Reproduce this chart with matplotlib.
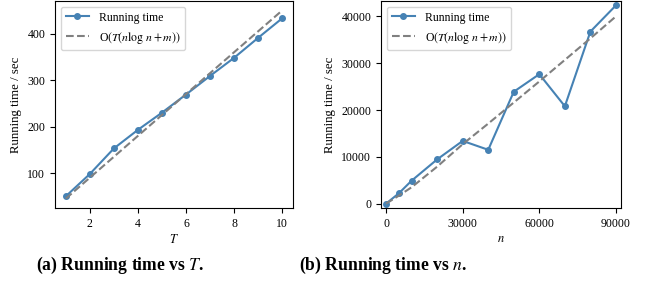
import matplotlib
matplotlib.use("Agg")
import matplotlib.pyplot as plt

plt.rcParams['font.family'] = ['Liberation Serif', 'DejaVu Serif']
plt.rcParams['mathtext.fontset'] = 'stix'

# Panel (a): running time vs T
T_vals = [1, 2, 3, 4, 5, 6, 7, 8, 9, 10]
time_T = [50, 98, 153, 193, 230, 269, 309, 348, 391, 433]
ref_T = [45, 90, 135, 180, 225, 270, 315, 360, 405, 450]

# Panel (b): running time vs n
n_vals = [0, 5000, 10000, 20000, 30000, 40000, 50000, 60000, 70000, 80000, 90000]
time_n = [0, 2200, 4900, 9450, 13400, 11500, 23900, 27650, 20800, 36750, 42350]
ref_n = [0, 1700, 3500, 7900, 12700, 17100, 21600, 26100, 30700, 35300, 40000]

line_label = "Running time"
ref_label = r"O$(T(n\log\,n+m))$"
blue = "#4682b4"
grey = "#808080"

fig = plt.figure(figsize=(6.52, 2.85), dpi=100)
ax1 = fig.add_axes([55/652, 1 - 208/285, 238/652, 207/285])
ax2 = fig.add_axes([381/652, 1 - 208/285, 240/652, 207/285])

ax1.plot(T_vals, time_T, color=blue, marker='o', markersize=4, lw=1.5, label=line_label)
ax1.plot(T_vals, ref_T, color=grey, ls='--', lw=1.5, label=ref_label)
ax1.set_xticks([2, 4, 6, 8, 10])
ax1.set_yticks([100, 200, 300, 400])
ax1.set_xlabel(r"$T$", fontsize=9, labelpad=2)
ax1.set_ylabel("Running time / sec", fontsize=9.2, labelpad=4)
ax1.tick_params(labelsize=8.5)
ax1.legend(loc='upper left', fontsize=8.5, frameon=True)

ax2.plot(n_vals, time_n, color=blue, marker='o', markersize=4, lw=1.5, label=line_label)
ax2.plot(n_vals, ref_n, color=grey, ls='--', lw=1.5, label=ref_label)
ax2.margins(0.022)
ax2.set_xticks([0, 30000, 60000, 90000])
ax2.set_yticks([0, 10000, 20000, 30000, 40000])
ax2.set_xlabel(r"$n$", fontsize=9, labelpad=2)
ax2.set_ylabel("Running time / sec", fontsize=9.2, labelpad=4)
ax2.tick_params(labelsize=8.5)
ax2.legend(loc='upper left', fontsize=8.5, frameon=True)

fig.text(120/652, 1 - 265/285, r"(a) Running time vs $T$.", ha='center', va='center',
         fontsize=12.7, fontweight='bold')
fig.text(383/652, 1 - 265/285, r"(b) Running time vs $n$.", ha='center', va='center',
         fontsize=12.7, fontweight='bold')

fig.savefig("out.png", dpi=100)
